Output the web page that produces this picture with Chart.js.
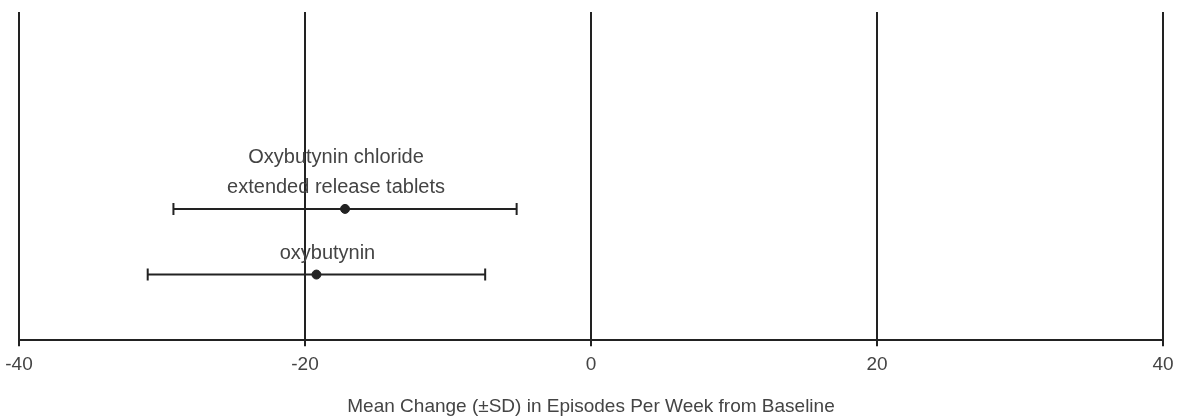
<!DOCTYPE html>
<html>
<head>
<meta charset="utf-8">
<script src="https://cdn.jsdelivr.net/npm/chart.js@4"></script>
<style>
    html, body { margin: 0; padding: 0; background: #fff; }
    #wrap { width: 1179px; height: 416px; }
</style>
</head>
<body>
<div id="wrap"><canvas id="forestChart"></canvas></div>
<script>
// Chart data
const groupLabels = [['Oxybutynin chloride', 'extended release tablets'], ['oxybutynin']];
const meanValues = [-17.2, -19.2];
const sdValues = [12.0, 11.8];
const rowPositions = [4, 2];
const xTicks = [-40, -20, 0, 20, 40];
const axisTitle = 'Mean Change (\u00b1SD) in Episodes Per Week from Baseline';

const inkColor = '#222';
const textColor = '#444';
const fontFamily = '"Liberation Sans", Arial, sans-serif';

// Error bars, group labels and the x axis title
const errorBarPlugin = {
    id: 'errorBars',
    afterDatasetsDraw(chart) {
        const ctx = chart.ctx;
        const xs = chart.scales.x;
        const ys = chart.scales.y;
        const labelShift = [-9, 11];
        ctx.save();
        ctx.strokeStyle = inkColor;
        ctx.lineWidth = 2;
        meanValues.forEach((m, i) => {
            const y = ys.getPixelForValue(rowPositions[i]);
            const x1 = xs.getPixelForValue(m - sdValues[i]);
            const x2 = xs.getPixelForValue(m + sdValues[i]);
            ctx.beginPath();
            ctx.moveTo(x1, y);
            ctx.lineTo(x2, y);
            ctx.moveTo(x1, y - 6);
            ctx.lineTo(x1, y + 6);
            ctx.moveTo(x2, y - 6);
            ctx.lineTo(x2, y + 6);
            ctx.stroke();

            // label above the bar
            ctx.fillStyle = textColor;
            ctx.font = '20px ' + fontFamily;
            ctx.textAlign = 'center';
            ctx.textBaseline = 'middle';
            const lines = groupLabels[i];
            const cx = xs.getPixelForValue(m) + labelShift[i];
            lines.forEach((t, j) => {
                const off = (lines.length - j) * 30 - 9;
                ctx.fillText(t, cx, y - off);
            });
        });

        // axis title
        ctx.font = '19px ' + fontFamily;
        ctx.fillStyle = textColor;
        ctx.textAlign = 'center';
        ctx.textBaseline = 'middle';
        ctx.fillText(axisTitle, xs.getPixelForValue(0), chart.chartArea.bottom + 67);
        ctx.restore();
    }
};

new Chart(document.getElementById('forestChart'), {
    type: 'scatter',
    data: {
        datasets: [{
            data: meanValues.map((m, i) => ({ x: m, y: rowPositions[i] })),
            backgroundColor: inkColor,
            borderColor: inkColor,
            pointRadius: 4.5,
            pointHoverRadius: 4.5
        }]
    },
    options: {
        responsive: true,
        maintainAspectRatio: false,
        animation: false,
        layout: { padding: { left: 19, right: 16, top: 12, bottom: 33 } },
        plugins: {
            legend: { display: false },
            tooltip: { enabled: false }
        },
        scales: {
            x: {
                type: 'linear',
                min: -40,
                max: 40,
                afterBuildTicks: (scale) => { scale.ticks = xTicks.map(v => ({ value: v })); },
                afterFit: (scale) => { scale.paddingLeft = 0; scale.paddingRight = 0; },
                grid: { color: inkColor, lineWidth: 2, drawTicks: true, tickLength: 6, tickColor: inkColor },
                border: { display: true, color: inkColor, width: 2 },
                ticks: {
                    color: textColor,
                    font: { family: fontFamily, size: 19 },
                    padding: 7
                },
                title: { display: false }
            },
            y: {
                display: false,
                min: 0,
                max: 10
            }
        }
    },
    plugins: [errorBarPlugin]
});
</script>
</body>
</html>
